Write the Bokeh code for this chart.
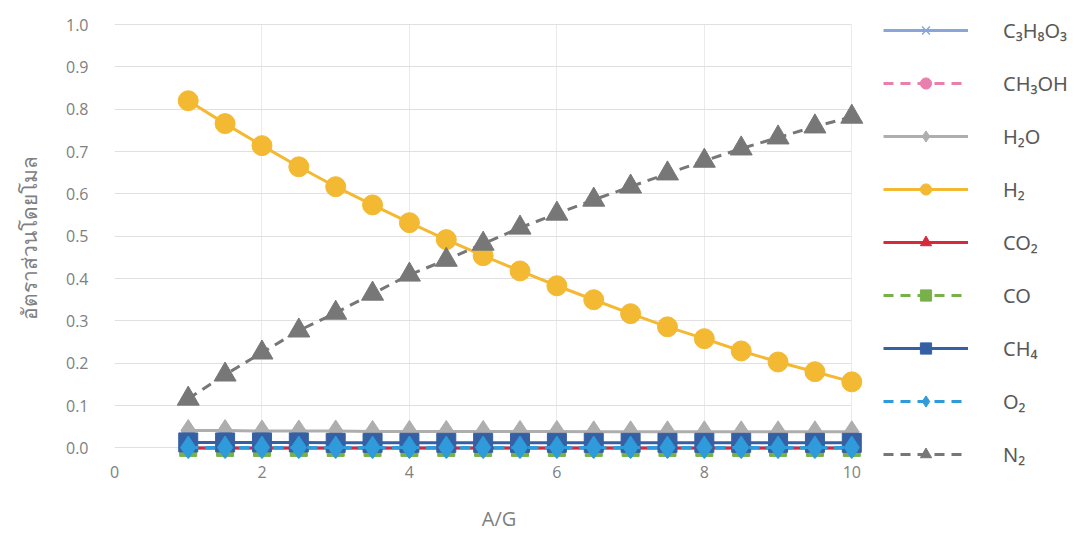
from bokeh.plotting import figure
from bokeh.models import (Range1d, FixedTicker, Legend, LegendItem, NumeralTickFormatter)
from bokeh.embed import file_html
from bokeh.resources import INLINE

# Air-to-glycerol ratio (A/G)
ag_ratio = [1, 1.5, 2, 2.5, 3, 3.5, 4, 4.5, 5, 5.5, 6, 6.5, 7, 7.5, 8, 8.5, 9, 9.5, 10]

# Mole fractions of each species
c3h8o3 = [0.0, 0.0, 0.0, 0.0, 0.0, 0.0, 0.0, 0.0, 0.0, 0.0, 0.0, 0.0, 0.0, 0.0, 0.0, 0.0, 0.0, 0.0, 0.0]
ch3oh = [0.0, 0.0, 0.0, 0.0, 0.0, 0.0, 0.0, 0.0, 0.0, 0.0, 0.0, 0.0, 0.0, 0.0, 0.0, 0.0, 0.0, 0.0, 0.0]
h2o = [0.041, 0.041, 0.040, 0.040, 0.040, 0.039, 0.039, 0.039, 0.039, 0.039, 0.039, 0.038, 0.038, 0.038, 0.038, 0.038, 0.038, 0.038, 0.038]
h2 = [0.820, 0.766, 0.714, 0.664, 0.617, 0.574, 0.532, 0.492, 0.454, 0.418, 0.383, 0.350, 0.317, 0.286, 0.258, 0.229, 0.203, 0.180, 0.156]
co2 = [0.0, 0.0, 0.0, 0.0, 0.0, 0.0, 0.0, 0.0, 0.0, 0.0, 0.0, 0.0, 0.0, 0.0, 0.0, 0.0, 0.0, 0.0, 0.0]
co = [0.0, 0.0, 0.0, 0.0, 0.0, 0.0, 0.0, 0.0, 0.0, 0.0, 0.0, 0.0, 0.0, 0.0, 0.0, 0.0, 0.0, 0.0, 0.0]
ch4 = [0.013, 0.013, 0.013, 0.013, 0.012, 0.012, 0.012, 0.012, 0.012, 0.012, 0.012, 0.012, 0.012, 0.012, 0.012, 0.012, 0.012, 0.012, 0.012]
o2 = [0.001, 0.001, 0.001, 0.001, 0.001, 0.001, 0.001, 0.001, 0.001, 0.001, 0.001, 0.001, 0.001, 0.001, 0.001, 0.001, 0.001, 0.001, 0.001]
n2 = [0.116, 0.173, 0.225, 0.277, 0.319, 0.364, 0.409, 0.444, 0.482, 0.520, 0.553, 0.586, 0.617, 0.648, 0.678, 0.707, 0.733, 0.759, 0.782]

x_ticks = [0, 2, 4, 6, 8, 10]
y_ticks = [0.0, 0.1, 0.2, 0.3, 0.4, 0.5, 0.6, 0.7, 0.8, 0.9, 1.0]

# (label, values, color, marker, dash, marker size)
series = [
    ("C₃H₈O₃", c3h8o3, "#8AA6D8", "x", "solid", 14),
    ("CH₃OH", ch3oh, "#E97FAE", "circle", "10 7", 14),
    ("H₂O", h2o, "#AEAEAE", "diamond", "solid", 22),
    ("H₂", h2, "#F4B932", "circle", "solid", 20),
    ("CO₂", co2, "#D42A3C", "triangle", "solid", 16),
    ("CO", co, "#78B14A", "square", "10 7", 17),
    ("CH₄", ch4, "#3660A4", "square", "solid", 19),
    ("O₂", o2, "#2F9BDB", "diamond", "10 7", 23),
    ("N₂", n2, "#777777", "triangle", "10 7", 22),
]

FONT = "Open Sans"
TXT = "#808080"

# The ranges run a little past the ticked 0-1 / 0-10 box so that markers on the
# edges are drawn whole; grid lines stay inside the ticked box.
p = figure(frame_width=769, frame_height=442,
           x_range=Range1d(0, 10.43), y_range=Range1d(-0.025, 1.019),
           output_backend="svg", toolbar_location=None,
           min_border_left=114, min_border_top=16,
           min_border_right=0, min_border_bottom=77)
p.outline_line_color = None
p.background_fill_color = "white"
p.border_fill_color = "white"

p.xaxis.ticker = FixedTicker(ticks=x_ticks)
p.yaxis.ticker = FixedTicker(ticks=y_ticks)
p.yaxis.formatter = NumeralTickFormatter(format="0.0")

for ax in (p.xaxis, p.yaxis):
    ax.axis_line_color = None
    ax.major_tick_line_color = None
    ax.minor_tick_line_color = None
    ax.major_label_text_font = FONT
    ax.major_label_text_font_size = "16px"
    ax.major_label_text_color = TXT
    ax.axis_label_text_font = FONT
    ax.axis_label_text_font_style = "normal"
    ax.axis_label_text_color = TXT

p.xaxis.axis_label_text_font_size = "20px"
p.yaxis.axis_label_text_font_size = "21px"
p.xaxis.major_label_standoff = 1
p.yaxis.major_label_standoff = 20
p.xaxis.axis_label = "A/G"
p.xaxis.axis_label_standoff = 24
p.yaxis.axis_label = "อัตราส่วนโดยโมล"
p.yaxis.axis_label_standoff = 20

p.xgrid.ticker = FixedTicker(ticks=x_ticks)
p.ygrid.ticker = FixedTicker(ticks=y_ticks)
p.xgrid.grid_line_color = "#EBEBEB"
p.ygrid.grid_line_color = "#E0E0E0"
p.ygrid.cross_bounds = (0, 10)
p.xgrid.cross_bounds = (0, 1)

items = []
for label, vals, color, marker, dash, size in series:
    ln = p.line(ag_ratio, vals, line_color=color, line_width=3, line_dash=dash)
    if marker == "x":
        sc = p.scatter(ag_ratio, vals, marker=marker, size=size, line_color=color, line_width=1.5)
    else:
        sc = p.scatter(ag_ratio, vals, marker=marker, size=size, fill_color=color,
                       line_color=color, line_width=1)
    items.append(LegendItem(label=label, renderers=[ln, sc]))

legend = Legend(items=items, location="top_left")
legend.glyph_width = 85
legend.glyph_height = 28
legend.label_height = 28
legend.spacing = 25
legend.label_standoff = 35
legend.padding = 0
legend.margin = 0
legend.border_line_color = None
legend.background_fill_alpha = 0
legend.label_text_font = "Noto Sans"
legend.label_text_font_size = "20px"
legend.label_text_color = "#595959"
p.add_layout(legend, "right")

open("out.html", "w").write(file_html(p, INLINE))
